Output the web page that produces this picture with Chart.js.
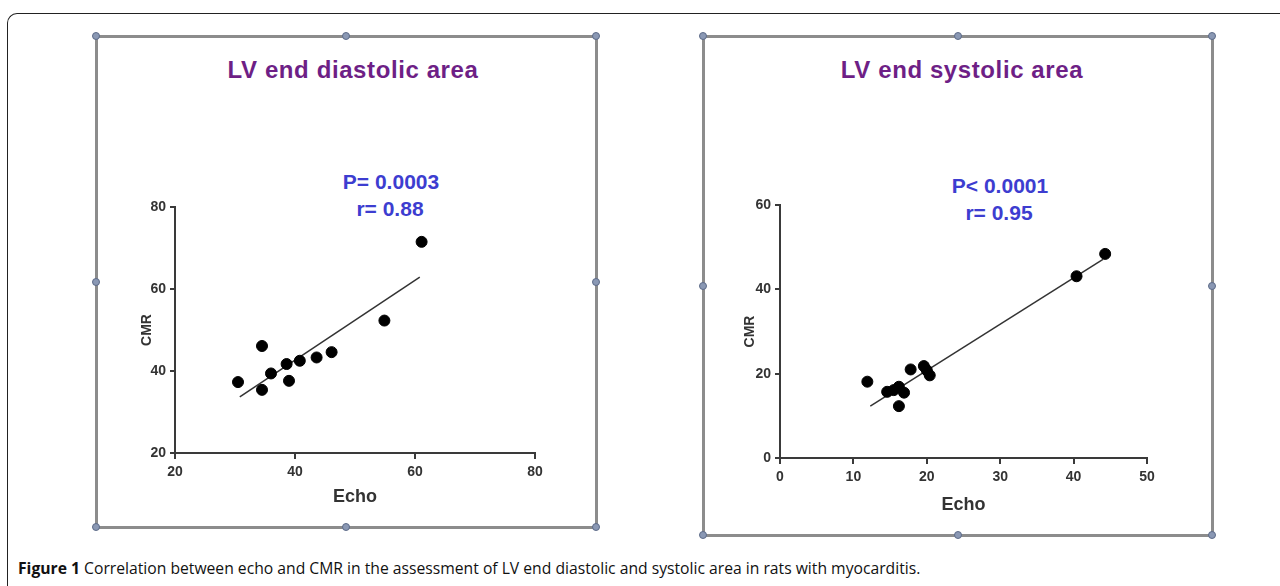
<!DOCTYPE html>
<html lang="en">
<head>
    <meta charset="UTF-8">
    <title>Echo vs CMR</title>
    <script src="https://cdn.jsdelivr.net/npm/chart.js"></script>
    <style>
        body {
            margin: 0;
            width: 1280px;
            height: 586px;
            background: #fff;
            position: relative;
            overflow: hidden;
            font-family: Arial, "Liberation Sans", sans-serif;
        }
        .frame {
            position: absolute;
            left: 7px;
            top: 13px;
            width: 1300px;
            height: 600px;
            border-left: 1.5px solid #222;
            border-top: 1.5px solid #222;
            border-top-left-radius: 10px;
        }
        .panel {
            position: absolute;
            border: 3px solid #8c8c8c;
            box-sizing: border-box;
        }
        .handle {
            position: absolute;
            width: 8px;
            height: 8px;
            margin: -4px 0 0 -4px;
            border-radius: 50%;
            background: #8a98b4;
            border: 1px solid #5d6b88;
            box-sizing: border-box;
        }
        .box {
            position: absolute;
        }
        .title {
            position: absolute;
            font-weight: bold;
            font-size: 24px;
            letter-spacing: 0.6px;
            color: #6e1f86;
            transform: translate(-50%, -50%);
            white-space: nowrap;
        }
        .stat {
            position: absolute;
            font-weight: bold;
            font-size: 21px;
            color: #3d3dd0;
            transform: translate(-50%, -50%);
            white-space: nowrap;
        }
        .caption {
            position: absolute;
            left: 18px;
            top: 557px;
            font-family: "Open Sans", sans-serif;
            font-size: 15.7px;
            color: #111;
            white-space: nowrap;
        }
        .caption b {
            font-weight: 700;
        }
    </style>
</head>
<body>
<div class="frame"></div>

<div class="panel" style="left:95px;top:35px;width:503px;height:494px;"></div>
<div class="panel" style="left:702px;top:35px;width:512px;height:502px;"></div>

<div class="title" style="left:353px;top:70px;">LV end diastolic area</div>
<div class="title" style="left:962px;top:70px;">LV end systolic area</div>

<div class="stat" style="left:391px;top:182px;">P= 0.0003</div>
<div class="stat" style="left:390px;top:209px;">r= 0.88</div>
<div class="stat" style="left:1000px;top:186px;">P&lt; 0.0001</div>
<div class="stat" style="left:999px;top:213px;">r= 0.95</div>

<div class="box" style="left:100px;top:40px;width:494px;height:484px;">
    <canvas id="diastolicChart"></canvas>
</div>
<div class="box" style="left:706px;top:40px;width:503px;height:492px;">
    <canvas id="systolicChart"></canvas>
</div>

<div class="caption"><b>Figure 1</b> Correlation between echo and CMR in the assessment of LV end diastolic and systolic area in rats with myocarditis.</div>

<script>
    // LV end diastolic area: Echo (x) vs CMR (y)
    const diastolicEcho = [30.5, 34.5, 34.5, 36.0, 38.6, 39.0, 40.8, 43.6, 46.1, 54.9, 61.1];
    const diastolicCmr  = [37.3, 46.1, 35.4, 39.4, 41.7, 37.6, 42.5, 43.3, 44.6, 52.3, 71.5];
    const diastolicFitX = [30.8, 60.8];
    const diastolicFitY = [33.7, 62.9];
    const diastolicXTicks = [20, 40, 60, 80];
    const diastolicYTicks = [20, 40, 60, 80];

    // LV end systolic area
    const systolicEcho = [11.9, 14.6, 15.5, 16.2, 16.9, 16.2, 17.8, 19.6, 20.0, 20.4, 40.4, 44.3];
    const systolicCmr  = [18.1, 15.7, 16.1, 16.9, 15.5, 12.3, 21.0, 21.8, 20.8, 19.6, 43.1, 48.4];
    const systolicFitX = [12.3, 44.0];
    const systolicFitY = [12.3, 47.1];
    const systolicXTicks = [0, 10, 20, 30, 40, 50];
    const systolicYTicks = [0, 20, 40, 60];

    // handles on the panel borders
    [[96, 36, 596, 527], [703, 36, 1212, 535]].forEach(([x1, y1, x2, y2]) => {
        const xm = (x1 + x2) / 2, ym = (y1 + y2) / 2;
        [[x1, y1], [xm, y1], [x2, y1], [x1, ym], [x2, ym], [x1, y2], [xm, y2], [x2, y2]].forEach(([x, y]) => {
            const h = document.createElement('div');
            h.className = 'handle';
            h.style.left = x + 'px';
            h.style.top = y + 'px';
            document.body.appendChild(h);
        });
    });

    const axisColor = '#3a3a3a';
    const tickFont = { family: 'Arial', size: 14, weight: 'bold' };

    function toPoints(xs, ys) {
        return xs.map((x, i) => ({ x: x, y: ys[i] }));
    }

    function makeChart(id, cfg) {
        const ctx = document.getElementById(id).getContext('2d');
        return new Chart(ctx, {
            type: 'scatter',
            data: {
                datasets: [
                    {
                        data: toPoints(cfg.xs, cfg.ys),
                        backgroundColor: '#000',
                        borderColor: '#000',
                        pointRadius: 5.5,
                        pointHoverRadius: 5.5
                    },
                    {
                        type: 'line',
                        data: toPoints(cfg.fitX, cfg.fitY),
                        borderColor: '#333',
                        borderWidth: 1.5,
                        pointRadius: 0,
                        fill: false
                    }
                ]
            },
            options: {
                responsive: true,
                maintainAspectRatio: false,
                animation: false,
                layout: { padding: { left: 0, top: cfg.top, right: cfg.right, bottom: 0 } },
                plugins: {
                    legend: { display: false },
                    tooltip: { enabled: false }
                },
                scales: {
                    x: {
                        type: 'linear',
                        min: cfg.xTicks[0],
                        max: cfg.xTicks[cfg.xTicks.length - 1],
                        afterBuildTicks: s => { s.ticks = cfg.xTicks.map(v => ({ value: v })); },
                        afterFit: s => { s.height = cfg.xHeight; },
                        grid: { display: true, drawOnChartArea: false, drawTicks: true, tickLength: 6, color: axisColor, lineWidth: 2 },
                        border: { display: true, color: axisColor, width: 2 },
                        ticks: { color: '#333', font: tickFont, padding: 5, maxRotation: 0 },
                        title: { display: true, text: 'Echo', color: '#333', font: { family: 'Arial', size: 18, weight: 'bold' }, padding: { top: 0, bottom: 16 } }
                    },
                    y: {
                        type: 'linear',
                        min: cfg.yTicks[0],
                        max: cfg.yTicks[cfg.yTicks.length - 1],
                        afterBuildTicks: s => { s.ticks = cfg.yTicks.map(v => ({ value: v })); },
                        afterFit: s => { s.width = cfg.yWidth; },
                        grid: { display: true, drawOnChartArea: false, drawTicks: true, tickLength: 5, color: axisColor, lineWidth: 2 },
                        border: { display: true, color: axisColor, width: 2 },
                        ticks: { color: '#333', font: tickFont, padding: 4 },
                        title: { display: true, text: 'CMR', color: '#333', font: { family: 'Arial', size: 14, weight: 'bold' }, padding: { top: cfg.cmrPad, bottom: 0 } }
                    }
                }
            }
        });
    }

    makeChart('diastolicChart', {
        xs: diastolicEcho, ys: diastolicCmr,
        fitX: diastolicFitX, fitY: diastolicFitY,
        xTicks: diastolicXTicks, yTicks: diastolicYTicks,
        top: 167, right: 59, xHeight: 71, yWidth: 75, cmrPad: 39
    });

    makeChart('systolicChart', {
        xs: systolicEcho, ys: systolicCmr,
        fitX: systolicFitX, fitY: systolicFitY,
        xTicks: systolicXTicks, yTicks: systolicYTicks,
        top: 165, right: 62, xHeight: 74, yWidth: 74, cmrPad: 36
    });
</script>
</body>
</html>
